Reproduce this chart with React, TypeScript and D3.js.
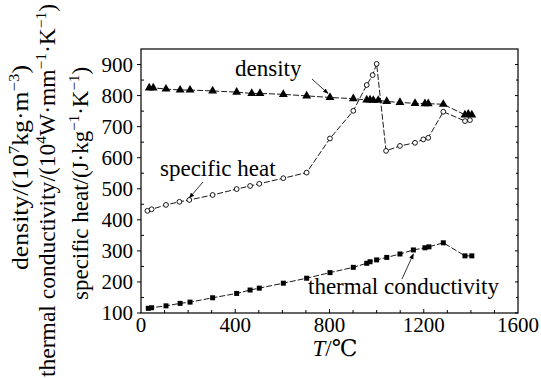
import * as d3 from 'd3'

// temperature (°C) and property values
const densityT = [35, 52, 106, 166, 208, 304, 406, 470, 505, 604, 703, 802, 901, 958, 972, 986, 1007, 1043, 1099, 1163, 1205, 1219, 1283, 1375, 1389, 1404]
const densityV = [825, 825, 821, 818, 818, 815, 811, 807, 807, 804, 799, 794, 790, 786, 786, 785, 785, 781, 778, 775, 774, 774, 772, 738, 740, 738]

const heatT = [27, 45, 106, 163, 205, 304, 406, 463, 502, 604, 703, 802, 901, 958, 983, 1000, 1040, 1099, 1163, 1198, 1219, 1283, 1375, 1396]
const heatV = [429, 434, 448, 458, 464, 480, 499, 509, 516, 534, 552, 662, 751, 834, 866, 902, 622, 638, 648, 659, 664, 748, 718, 721]

const condT = [31, 45, 106, 166, 208, 304, 406, 463, 502, 604, 703, 802, 901, 958, 972, 1000, 1043, 1099, 1156, 1205, 1222, 1283, 1375, 1404]
const condV = [115, 117, 123, 131, 135, 149, 163, 174, 180, 196, 212, 230, 247, 260, 265, 271, 279, 290, 303, 310, 313, 326, 284, 284]

const xTicks = [0, 400, 800, 1200, 1600]
const yTicks = [100, 200, 300, 400, 500, 600, 700, 800, 900]

const W = 541
const H = 378
const SERIF = 'Liberation Serif, DejaVu Serif, Noto Serif, Times, serif'

type Pt = { t: number; v: number }
const zip = (ts: number[], vs: number[]): Pt[] => ts.map((t, i) => ({ t, v: vs[i] }))

export default function App() {
  const x = d3.scaleLinear().domain([0, 1600]).range([141, 518])
  const y = d3.scaleLinear().domain([100, 950]).range([313, 49])

  const density = zip(densityT, densityV)
  const heat = zip(heatT, heatV)
  const cond = zip(condT, condV)

  const line = d3.line<Pt>().x(d => x(d.t)).y(d => y(d.v))
  const tri = d3.symbol(d3.symbolTriangle, 34)()
  const sq = d3.symbol(d3.symbolSquare, 25)()

  const [x0, x1] = x.range()
  const [y0, y1] = y.range()

  // minor ticks
  const xMinor = d3.range(100, 1600, 100)
  const yMinor = d3.range(150, 950, 50)

  const lineStyle = { fill: 'none', stroke: '#000', strokeWidth: 0.9, strokeDasharray: '6 2' }
  const ts = (size: number) => ({ fontFamily: SERIF, fontSize: size })

  // annotation anchors
  const dA = density[11]
  const hA = heat[4]
  const cA = cond[18]

  const sup = (s: string) => (
    <tspan style={{ fontSize: 15 }} dy={-9}>{s}</tspan>
  )
  const down = (s: string) => <tspan dy={9}>{s}</tspan>

  return (
    <svg width={W} height={H} style={{ position: 'absolute', left: 0, top: 0, background: '#fff', fontFamily: SERIF }}>
      <defs>
        <marker id="arr" viewBox="0 0 10 10" refX="9" refY="5" markerWidth="7" markerHeight="7" orient="auto">
          <path d="M0,1 L10,5 L0,9 Z" fill="#000" />
        </marker>
      </defs>

      {/* frame */}
      <rect x={x0} y={y1} width={x1 - x0} height={y0 - y1} fill="none" stroke="#000" strokeWidth={1.2} />

      {/* x ticks */}
      {xMinor.map(t => (
        <line key={'xm' + t} x1={x(t)} x2={x(t)} y1={y0} y2={y0 - (t % 400 === 0 ? 4 : 3)} stroke="#000" />
      ))}
      {xTicks.map(t => (
        <text key={'xt' + t} x={x(t)} y={332} textAnchor="middle" style={ts(21)}>{t}</text>
      ))}

      {/* y ticks left and right */}
      {yTicks.map(v => (
        <g key={'yt' + v}>
          <line x1={x0 - 4} x2={x0} y1={y(v)} y2={y(v)} stroke="#000" />
          <line x1={x1} x2={x1 - 3} y1={y(v)} y2={y(v)} stroke="#000" />
          <text x={133} y={y(v)} dy="0.35em" textAnchor="end" style={ts(21)}>{v}</text>
        </g>
      ))}
      {yMinor.filter(v => v % 100 !== 0).map(v => (
        <g key={'ym' + v}>
          <line x1={x0} x2={x0 + 3} y1={y(v)} y2={y(v)} stroke="#000" />
          <line x1={x1} x2={x1 - 2} y1={y(v)} y2={y(v)} stroke="#000" />
        </g>
      ))}

      {/* series lines */}
      <path d={line(density) ?? ''} style={lineStyle} />
      <path d={line(heat) ?? ''} style={lineStyle} />
      <path d={line(cond) ?? ''} style={lineStyle} />

      {/* markers */}
      {density.map((d, i) => (
        <path key={'d' + i} d={tri ?? ''} transform={`translate(${x(d.t)},${y(d.v)})`} fill="#000" />
      ))}
      {heat.map((d, i) => (
        <circle key={'h' + i} cx={x(d.t)} cy={y(d.v)} r={2.4} fill="#fff" stroke="#000" strokeWidth={0.9} />
      ))}
      {cond.map((d, i) => (
        <path key={'c' + i} d={sq ?? ''} transform={`translate(${x(d.t)},${y(d.v)})`} fill="#000" />
      ))}

      {/* annotations */}
      <text x={235} y={76} style={ts(23)}>density</text>
      <line x1={312} y1={79} x2={x(dA.t) - 2} y2={y(dA.v) - 4} stroke="#000" strokeWidth={0.8} markerEnd="url(#arr)" />
      <text x={160} y={176} style={ts(23)}>specific heat</text>
      <line x1={203} y1={182} x2={x(hA.t)} y2={y(hA.v) - 2} stroke="#000" strokeWidth={0.8} markerEnd="url(#arr)" />
      <text x={308} y={294} style={ts(23)}>thermal conductivity</text>
      <line x1={402} y1={279} x2={x(cA.t)} y2={y(cA.v) + 4} stroke="#000" strokeWidth={0.8} markerEnd="url(#arr)" />

      {/* axis titles */}
      <text x={335} y={356} textAnchor="middle" style={ts(23)}>
        <tspan fontStyle="italic">T</tspan>/℃
      </text>
      <text transform="translate(28,270) rotate(-90)" style={ts(23)} textLength={205} lengthAdjust="spacingAndGlyphs">
        density/(10{sup('7')}{down('kg·m')}{sup('−3')}{down(')')}
      </text>
      <text transform="translate(55,377) rotate(-90)" style={ts(23)} textLength={373} lengthAdjust="spacingAndGlyphs">
        thermal conductivity/(10{sup('4')}{down('W·mm')}{sup('−1')}{down('·K')}{sup('−1')}{down(')')}
      </text>
      <text transform="translate(88,300) rotate(-90)" style={ts(23)}>
        specific heat/(J·kg{sup('−1')}{down('·K')}{sup('−1')}{down(')')}
      </text>
    </svg>
  )
}
